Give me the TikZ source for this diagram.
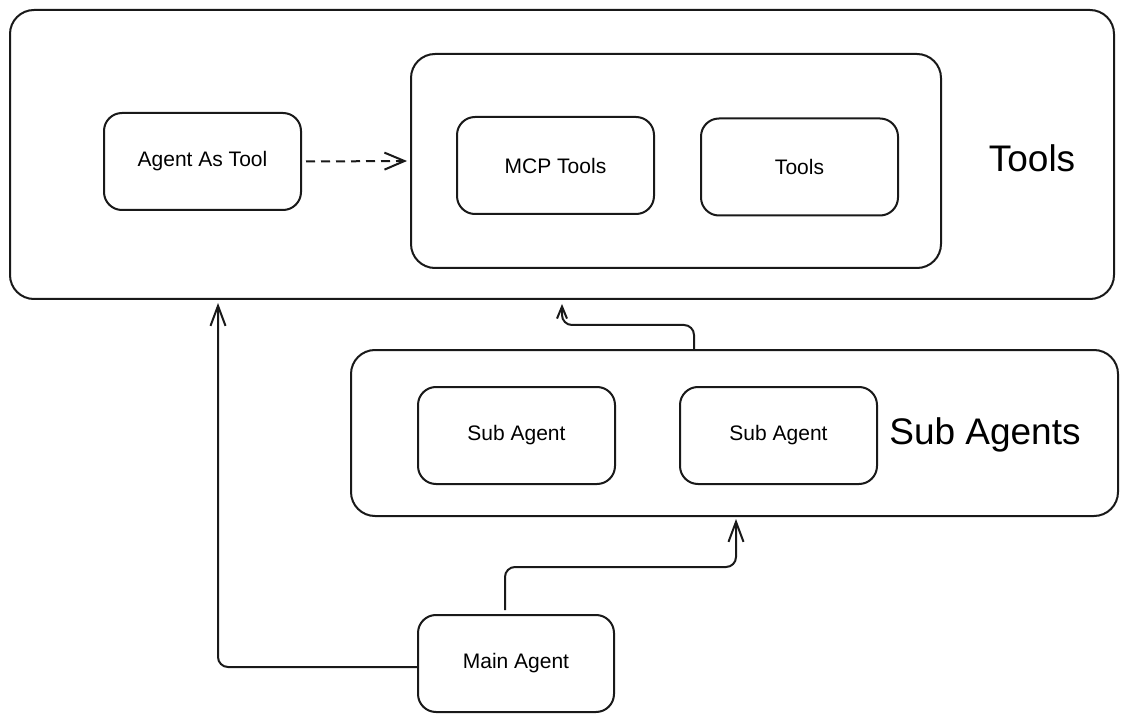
\documentclass[tikz,border=0pt]{standalone}
\usepackage{fontspec}
\setmainfont{Liberation Sans}
\usetikzlibrary{arrows.meta,calc}
\tikzset{
  box/.style={draw=black!90, line width=2pt, rounded corners=18pt, minimum width=197pt, minimum height=97pt, inner sep=0pt, font=\fontsize{21}{24}\selectfont},
  group/.style={draw=black!90, line width=2pt, rounded corners=24pt, inner sep=0pt},
  biglabel/.style={font=\fontsize{37}{42}\selectfont, inner sep=0pt},
  arr/.style={line width=2pt, draw=black!90, -{Straight Barb[length=20pt,width=15pt,line width=2pt]}, rounded corners=10pt},
  smallarr/.style={line width=2pt, draw=black!90, -{Straight Barb[length=12pt,width=10pt,line width=2pt]}, rounded corners=10pt},
  dasharr/.style={line width=2pt, draw=black!90, dash pattern=on 9pt off 6pt, -{Straight Barb[length=20pt,width=17pt,line width=2pt]}}
}
\begin{document}
\begin{tikzpicture}[x=1pt,y=-1pt]
\useasboundingbox (0,0) rectangle (1128,722);
% groups
\node[group, minimum width=1104pt, minimum height=289pt] (outer) at (562,154.5) {};
\node[group, minimum width=530pt, minimum height=214pt] (toolgrp) at (676,161) {};
\node[group, minimum width=767pt, minimum height=166pt] (subgrp) at (734.5,433) {};
% boxes
\node[box] (agent) at (202.5,161.5) {Agent As Tool};
\node[box] (mcp) at (555.5,165.5) {MCP Tools};
\node[box] (tools) at (799.5,167) {Tools};
\node[box] (sub1) at (516.5,435.5) {Sub Agent};
\node[box] (sub2) at (778.5,435.5) {Sub Agent};
\node[box, minimum width=196pt] (main) at (516,663.5) {Main Agent};
% labels
\node[biglabel] (toolslbl) at (1032,158) {Tools};
\node[biglabel] (sublbl) at (985,435) {Sub Agents};
% connectors
\draw[dasharr] ($(agent.east)+(4,0)$) -- ($(toolgrp.west)+(-3,0)$);
\coordinate (mleft) at ($(main.west)+(0,3.5)$);
\coordinate (otip) at ($(outer.south -| 218,0)+(0,3)$);
\draw[arr] (mleft) -| (otip);
\coordinate (mtop) at ($(main.north -| 505,0)+(0,-4)$);
\coordinate (stip) at ($(subgrp.south -| 736,0)+(0,2)$);
\draw[arr] (mtop) -- (505,567) -- (736,567) -- (stip);
\coordinate (stop) at (subgrp.north -| 694,0);
\coordinate (ttip) at ($(outer.south -| 562,0)+(0,4)$);
\draw[smallarr] (stop) -- (694,325) -- (562,325) -- (ttip);
\end{tikzpicture}
\end{document}
